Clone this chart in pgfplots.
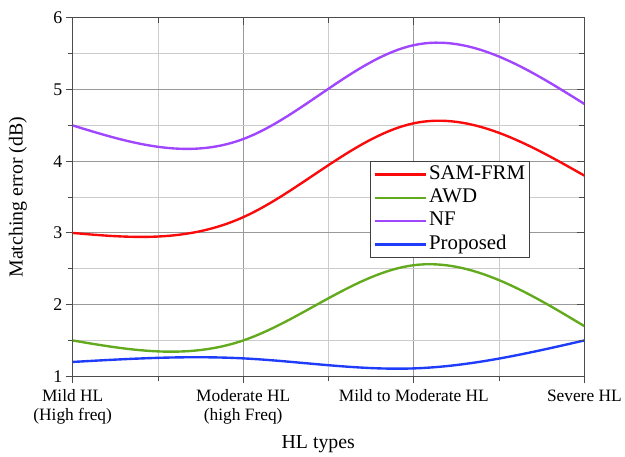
\documentclass[border=0pt]{standalone}
\usepackage{pgfplots}
\pgfplotsset{compat=1.18}
\usepackage{fontspec}
\setmainfont{Liberation Serif}
\definecolor{cRed}{RGB}{250,10,10}
\definecolor{cGreen}{RGB}{100,170,30}
\definecolor{cPurple}{RGB}{160,70,255}
\definecolor{cBlue}{RGB}{30,60,250}
% ---- natural cubic spline plot handler (draws a curve through the data points) ----
\makeatletter
\newcount\nsp@n
\newcount\nsp@i
\newcount\nsp@j
\def\nsp@set#1#2#3{\expandafter\xdef\csname nsp@#1@\number#2\endcsname{#3}}
\def\nsp@v#1#2{\csname nsp@#1@\number#2\endcsname}
\def\pgfplothandlernatspline{%
  \def\pgf@plotstreamstart{%
    \global\nsp@n=0\relax
    \global\let\pgf@plotstreampoint=\nsp@point
    \global\let\pgf@plotstreamspecial=\pgfutil@gobble
    \global\let\pgf@plotstreamend=\nsp@end
  }%
}
\def\nsp@point#1{%
  \pgf@process{#1}%
  \edef\nsp@px{\pgf@sys@tonumber\pgf@x}%
  \edef\nsp@py{\pgf@sys@tonumber\pgf@y}%
  \global\advance\nsp@n by 1\relax
  \nsp@set{px}{\nsp@n}{\nsp@px}%
  \nsp@set{py}{\nsp@n}{\nsp@py}%
  \pgfmathsetmacro\nsp@t{(\nsp@px)/100}\nsp@set{X}{\nsp@n}{\nsp@t}%
  \pgfmathsetmacro\nsp@t{(\nsp@py)/100}\nsp@set{Y}{\nsp@n}{\nsp@t}%
}
\def\nsp@end{%
  \ifnum\nsp@n<3\relax
    \nsp@lines
  \else
    \nsp@spline
  \fi
}
\def\nsp@lines{%
  \nsp@i=1\relax
  \pgf@plot@first@action{\pgfqpoint{\nsp@v{px}{1}pt}{\nsp@v{py}{1}pt}}%
  \loop\ifnum\nsp@i<\nsp@n
    \advance\nsp@i by 1\relax
    \pgfpathlineto{\pgfqpoint{\nsp@v{px}{\nsp@i}pt}{\nsp@v{py}{\nsp@i}pt}}%
  \repeat
}
\def\nsp@spline{%
  \nsp@i=1\relax
  \loop\ifnum\nsp@i<\nsp@n
    \nsp@j=\nsp@i \advance\nsp@j by 1\relax
    \edef\nsp@xa{\nsp@v{X}{\nsp@i}}\edef\nsp@xb{\nsp@v{X}{\nsp@j}}%
    \edef\nsp@ya{\nsp@v{Y}{\nsp@i}}\edef\nsp@yb{\nsp@v{Y}{\nsp@j}}%
    \pgfmathsetmacro\nsp@t{(\nsp@xb)-(\nsp@xa)}\nsp@set{h}{\nsp@i}{\nsp@t}%
    \pgfmathsetmacro\nsp@t{((\nsp@yb)-(\nsp@ya))/(\nsp@v{h}{\nsp@i})}\nsp@set{d}{\nsp@i}{\nsp@t}%
    \advance\nsp@i by 1\relax
  \repeat
  \nsp@set{cp}{1}{0}\nsp@set{rp}{1}{0}%
  \nsp@i=2\relax
  \loop\ifnum\nsp@i<\nsp@n
    \nsp@j=\nsp@i \advance\nsp@j by -1\relax
    \edef\nsp@hm{\nsp@v{h}{\nsp@j}}\edef\nsp@h{\nsp@v{h}{\nsp@i}}%
    \edef\nsp@dm{\nsp@v{d}{\nsp@j}}\edef\nsp@d{\nsp@v{d}{\nsp@i}}%
    \edef\nsp@cpm{\nsp@v{cp}{\nsp@j}}\edef\nsp@rpm{\nsp@v{rp}{\nsp@j}}%
    \pgfmathsetmacro\nsp@m{2*((\nsp@hm)+(\nsp@h))-(\nsp@hm)*(\nsp@cpm)}%
    \pgfmathsetmacro\nsp@t{(\nsp@h)/(\nsp@m)}\nsp@set{cp}{\nsp@i}{\nsp@t}%
    \pgfmathsetmacro\nsp@t{(6*((\nsp@d)-(\nsp@dm))-(\nsp@hm)*(\nsp@rpm))/(\nsp@m)}\nsp@set{rp}{\nsp@i}{\nsp@t}%
    \advance\nsp@i by 1\relax
  \repeat
  \nsp@set{M}{\nsp@n}{0}\nsp@set{M}{1}{0}%
  \nsp@i=\nsp@n \advance\nsp@i by -1\relax
  \loop\ifnum\nsp@i>1
    \nsp@j=\nsp@i \advance\nsp@j by 1\relax
    \edef\nsp@a{\nsp@v{rp}{\nsp@i}}\edef\nsp@b{\nsp@v{cp}{\nsp@i}}\edef\nsp@c{\nsp@v{M}{\nsp@j}}%
    \pgfmathsetmacro\nsp@t{(\nsp@a)-(\nsp@b)*(\nsp@c)}\nsp@set{M}{\nsp@i}{\nsp@t}%
    \advance\nsp@i by -1\relax
  \repeat
  \pgf@plot@first@action{\pgfqpoint{\nsp@v{px}{1}pt}{\nsp@v{py}{1}pt}}%
  \nsp@i=1\relax
  \loop\ifnum\nsp@i<\nsp@n
    \nsp@j=\nsp@i \advance\nsp@j by 1\relax
    \edef\nsp@h{\nsp@v{h}{\nsp@i}}\edef\nsp@d{\nsp@v{d}{\nsp@i}}%
    \edef\nsp@Ma{\nsp@v{M}{\nsp@i}}\edef\nsp@Mb{\nsp@v{M}{\nsp@j}}%
    \edef\nsp@xa{\nsp@v{X}{\nsp@i}}\edef\nsp@ya{\nsp@v{Y}{\nsp@i}}%
    \edef\nsp@xb{\nsp@v{X}{\nsp@j}}\edef\nsp@yb{\nsp@v{Y}{\nsp@j}}%
    \pgfmathsetmacro\nsp@sa{(\nsp@d)-(\nsp@h)*(2*(\nsp@Ma)+(\nsp@Mb))/6}%
    \pgfmathsetmacro\nsp@sb{(\nsp@d)+(\nsp@h)*((\nsp@Ma)+2*(\nsp@Mb))/6}%
    \pgfmathsetmacro\nsp@ax{100*((\nsp@xa)+(\nsp@h)/3)}%
    \pgfmathsetmacro\nsp@ay{100*((\nsp@ya)+(\nsp@h)*(\nsp@sa)/3)}%
    \pgfmathsetmacro\nsp@bx{100*((\nsp@xb)-(\nsp@h)/3)}%
    \pgfmathsetmacro\nsp@by{100*((\nsp@yb)-(\nsp@h)*(\nsp@sb)/3)}%
    \edef\nsp@ex{\nsp@v{px}{\nsp@j}}\edef\nsp@ey{\nsp@v{py}{\nsp@j}}%
    \pgfpathcurveto{\pgfqpoint{\nsp@ax pt}{\nsp@ay pt}}{\pgfqpoint{\nsp@bx pt}{\nsp@by pt}}{\pgfqpoint{\nsp@ex pt}{\nsp@ey pt}}%
    \advance\nsp@i by 1\relax
  \repeat
}
\tikzset{natural spline/.code={\let\tikz@plot@handler=\pgfplothandlernatspline}}
\makeatother
\begin{document}
\begin{tikzpicture}
\begin{axis}[
  scale only axis, width=514bp, height=360bp,
  xmin=0, xmax=3, ymin=1, ymax=6,
  xtick={0,1,2,3},
  xticklabels={{Mild HL\\(High freq)},{Moderate HL\\(high Freq)},{Mild to Moderate HL},{Severe HL}},
  xticklabel style={align=center, font=\fontsize{17.5}{18.5}\selectfont, yshift=-3bp},
  ytick={1,2,3,4,5,6},
  yticklabel style={font=\fontsize{18}{18}\selectfont},
  /pgf/number format/assume math mode=true,
  minor x tick num=1, minor y tick num=1,
  grid=both,
  major grid style={gray!80, line width=0.9pt},
  minor grid style={gray!40, line width=0.7pt},
  tick align=outside, xtick pos=bottom, ytick pos=left,
  major tick length=7bp, minor tick length=5bp,
  tick style={black!70, line width=0.9pt},
  axis line style={black!70, line width=1.1pt},
  xlabel={HL types}, ylabel={Matching error (dB)},
  every axis x label/.style={at={(axis description cs:0.48,-0.19)}, anchor=center, font=\fontsize{20}{20}\selectfont},
  every axis y label/.style={at={(axis description cs:-0.107,0.5)}, rotate=90, anchor=center, font=\fontsize{20}{20}\selectfont},
  legend style={at={(0.582,0.6)}, anchor=north west, draw=black!75, line width=1pt,
    font=\fontsize{21}{22}\selectfont, inner sep=2.5bp, row sep=3bp,
    nodes={inner sep=1.5bp, text height=13.5bp, text depth=4bp}},
  legend cell align=left,
  legend image code/.code={\draw[#1, line width=2pt] (0bp,0bp) -- (48bp,0bp); \path (0bp,0bp) -- (52bp,0bp);},
  every axis plot/.append style={line width=2.4pt, natural spline},
]
\addplot[cRed] coordinates {(0,3.0) (1,3.22) (2,4.53) (3,3.8)};
\addlegendentry{SAM-FRM}
\addplot[cGreen] coordinates {(0,1.5) (1,1.5) (2,2.55) (3,1.7)};
\addlegendentry{AWD}
\addplot[cPurple] coordinates {(0,4.5) (1,4.31) (2,5.62) (3,4.8)};
\addlegendentry{NF}
\addplot[cBlue] coordinates {(0,1.2) (1,1.25) (2,1.11) (3,1.5)};
\addlegendentry{Proposed}
\end{axis}
\begin{axis}[
  scale only axis, width=514bp, height=360bp,
  xmin=0, xmax=3, ymin=1, ymax=6,
  xtick={0,1,2,3}, ytick={1,2,3,4,5,6},
  minor x tick num=1, minor y tick num=1,
  xticklabels={}, yticklabels={},
  tick align=inside, xtick pos=top, ytick pos=right,
  major tick length=7bp, minor tick length=5bp,
  tick style={black!70, line width=0.9pt},
  axis line style={draw=none},
]
\end{axis}
\path (current axis.south west) +(-73bp,-77bp) (current axis.north east) +(38bp,18bp);
\end{tikzpicture}
\end{document}
